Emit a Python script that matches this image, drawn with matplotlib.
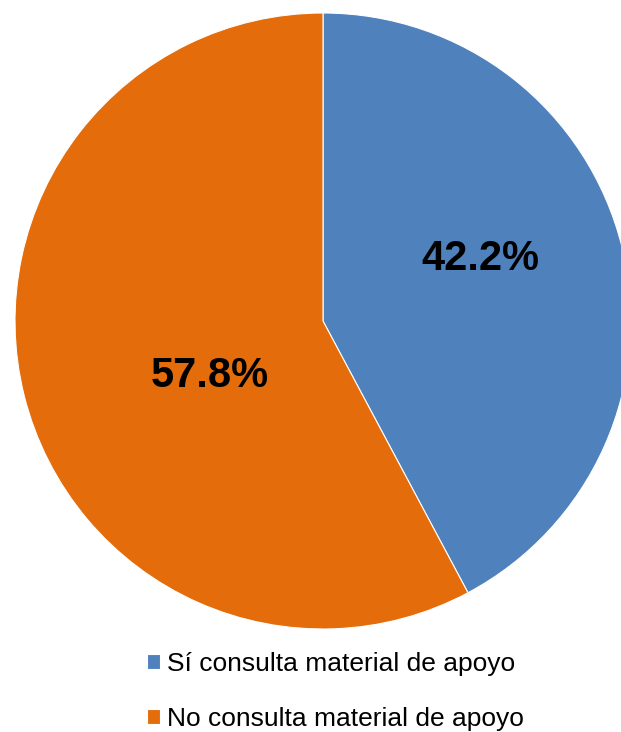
import matplotlib.pyplot as plt

labels = ['Sí consulta material de apoyo', 'No consulta material de apoyo']
values = [42.2, 57.8]
colors = ['#4F81BD', '#E46C0A']

W, H = 621, 732
fig = plt.figure(figsize=(W / 100, H / 100), dpi=100, facecolor='white')

# pie in pixel box: left 15, top 13, diameter 616 (right side runs off the figure)
cx, cy, r = 323, 321, 308
ax = fig.add_axes([(cx - r) / W, (H - cy - r) / H, 2 * r / W, 2 * r / H])
wedges, texts, autotexts = ax.pie(values, colors=colors, startangle=90, counterclock=False,
                                  autopct='%.1f%%', pctdistance=0.55,
                                  wedgeprops=dict(edgecolor='white', linewidth=0.8),
                                  textprops=dict(fontsize=30, fontweight='bold',
                                                 family='Liberation Sans', color='black'))
ax.set_xlim(-1, 1)
ax.set_ylim(-1, 1)
ax.set_aspect('equal')
ax.axis('off')

# label positions roughly as in the source chart
autotexts[0].set_position((0.51, 0.20))
autotexts[1].set_position((-0.367, -0.18))

leg = fig.legend(wedges, labels, loc='center left', bbox_to_anchor=(147 / W, 1 - 691.5 / H),
                 frameon=False, borderpad=0, borderaxespad=0,
                 handlelength=0.5, handleheight=0.5, handletextpad=0.27,
                 labelspacing=1.2, prop=dict(family='Liberation Sans', size=19))

fig.savefig('out.png', dpi=100, facecolor='white')
